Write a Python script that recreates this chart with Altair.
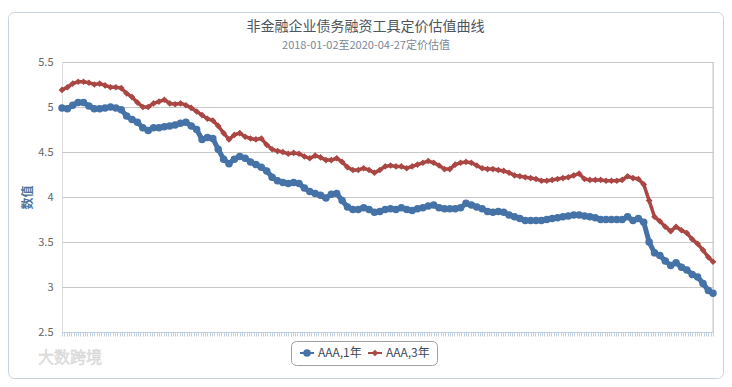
import altair as alt
import pandas as pd

# ---------------- data ----------------
series_names = ["AAA,1年", "AAA,3年"]

aaa_1y = [4.99, 4.98, 5.02, 5.05, 5.05, 5.01, 4.98, 4.98, 4.99, 5.00,
          4.99, 4.97, 4.90, 4.86, 4.83, 4.77, 4.74, 4.77, 4.77, 4.78,
          4.79, 4.80, 4.82, 4.83, 4.79, 4.75, 4.64, 4.66, 4.65, 4.53,
          4.42, 4.37, 4.42, 4.45, 4.43, 4.39, 4.36, 4.33, 4.29, 4.22,
          4.18, 4.16, 4.15, 4.16, 4.15, 4.10, 4.06, 4.04, 4.02, 3.99,
          4.03, 4.04, 3.96, 3.89, 3.86, 3.86, 3.88, 3.86, 3.83, 3.84,
          3.86, 3.87, 3.86, 3.88, 3.86, 3.85, 3.87, 3.88, 3.90, 3.91,
          3.88, 3.87, 3.87, 3.87, 3.88, 3.93, 3.91, 3.89, 3.87, 3.84,
          3.83, 3.84, 3.83, 3.80, 3.78, 3.76, 3.74, 3.74, 3.74, 3.74,
          3.75, 3.76, 3.77, 3.78, 3.79, 3.80, 3.80, 3.79, 3.78, 3.77,
          3.75, 3.75, 3.75, 3.75, 3.75, 3.78, 3.74, 3.76, 3.72, 3.50,
          3.38, 3.35, 3.29, 3.24, 3.27, 3.22, 3.19, 3.14, 3.11, 3.04,
          2.96, 2.93]

aaa_3y = [5.19, 5.22, 5.26, 5.28, 5.28, 5.27, 5.25, 5.26, 5.24, 5.22,
          5.22, 5.21, 5.15, 5.11, 5.05, 5.00, 5.00, 5.04, 5.06, 5.08,
          5.04, 5.03, 5.04, 5.02, 4.99, 4.95, 4.91, 4.87, 4.85, 4.79,
          4.71, 4.64, 4.69, 4.71, 4.67, 4.65, 4.64, 4.65, 4.58, 4.53,
          4.51, 4.50, 4.48, 4.49, 4.48, 4.45, 4.43, 4.46, 4.44, 4.41,
          4.41, 4.43, 4.39, 4.33, 4.30, 4.30, 4.32, 4.30, 4.27, 4.30,
          4.34, 4.35, 4.34, 4.34, 4.32, 4.34, 4.36, 4.38, 4.40, 4.38,
          4.35, 4.31, 4.31, 4.36, 4.38, 4.39, 4.38, 4.35, 4.32, 4.31,
          4.31, 4.30, 4.29, 4.27, 4.24, 4.23, 4.22, 4.21, 4.20, 4.18,
          4.18, 4.19, 4.20, 4.21, 4.22, 4.24, 4.26, 4.20, 4.19, 4.19,
          4.19, 4.18, 4.18, 4.18, 4.19, 4.23, 4.21, 4.20, 4.14, 3.96,
          3.78, 3.73, 3.67, 3.62, 3.67, 3.63, 3.60, 3.53, 3.48, 3.41,
          3.33, 3.28]

dates = (pd.date_range("2018-01-02", periods=121, freq="7D")
         .strftime("%Y-%m-%d").tolist() + ["2020-04-27"])

title_text = "非金融企业债务融资工具定价估值曲线"
subtitle_text = "2018-01-02至2020-04-27定价估值"
y_title = "数值"
y_ticks = [2.5, 3, 3.5, 4, 4.5, 5, 5.5]
watermark = "大数跨境"

df = pd.DataFrame({
    "date": dates * 2,
    "value": aaa_1y + aaa_3y,
    "series": [series_names[0]] * len(dates) + [series_names[1]] * len(dates),
})
one = pd.DataFrame({"a": [0]})

# ---------------- styling ----------------
W, H = 651, 270
colors = ["#4572A7", "#AA4643"]
FONT = "Noto Sans CJK SC"


def ms(s):
    return int(pd.Timestamp(s).value // 10**6)


tick_vals = [ms(d) for d in pd.date_range("2018-01-02", "2020-04-27", freq="3D")]

x_enc = alt.X(
    "date:T",
    scale=alt.Scale(domain=[ms("2018-01-02"), ms("2020-04-27")]),
    axis=alt.Axis(values=tick_vals, labels=False, title=None, grid=False,
                  domainColor="#C0D0E0", tickColor="#C0D0E0", tickSize=4),
)
y_enc = alt.Y(
    "value:Q",
    scale=alt.Scale(domain=[2.5, 5.5], nice=False, zero=False),
    axis=alt.Axis(values=y_ticks, format=".1~f", title=y_title, grid=True,
                  gridColor="#C8C8C8", domain=False, ticks=False,
                  labelPadding=9, labelColor="#666666", labelFontSize=11,
                  titleColor="#4d759e", titleFontWeight="bold", titleFontSize=12,
                  titleX=-35, titleY=H / 2, titleBaseline="middle", titleAlign="center"),
)

border = alt.Chart(one).mark_rect(cornerRadius=6, fillOpacity=0, stroke="#C8D2DC", strokeWidth=1).encode(
    x=alt.value(-53.5), x2=alt.value(661.5), y=alt.value(-49.5), y2=alt.value(316.5))

right_line = alt.Chart(one).mark_rule(color="#C8C8C8", strokeWidth=1).encode(
    x=alt.value(W), y=alt.value(0), y2=alt.value(H))

base1 = alt.Chart(df).transform_filter(alt.datum.series == series_names[0])
base3 = alt.Chart(df).transform_filter(alt.datum.series == series_names[1])

line1 = base1.mark_line(strokeWidth=5, color=colors[0], strokeCap="round").encode(x=x_enc, y=y_enc)
line3 = base3.mark_line(strokeWidth=3.5, color=colors[1], strokeCap="round").encode(x=x_enc, y=y_enc)
pts1 = base1.mark_point(shape="circle", filled=True, size=56, opacity=1, color=colors[0]).encode(x=x_enc, y=y_enc)
pts3 = base3.mark_point(shape="diamond", filled=True, size=44, opacity=1, color=colors[1]).encode(x=x_enc, y=y_enc)

title = alt.Chart(one).mark_text(text=title_text, font=FONT, fontSize=14, color="#4d5660",
                                 align="center", baseline="middle").encode(
    x=alt.value(303.5), y=alt.value(-35.5))
subtitle = alt.Chart(one).mark_text(text=subtitle_text, font=FONT, fontSize=11, color="#7a8896",
                                    align="center", baseline="middle").encode(
    x=alt.value(304), y=alt.value(-16.5))

# legend
legend_box = alt.Chart(one).mark_rect(cornerRadius=5, fill="white", stroke="#A0A0A0", strokeWidth=1).encode(
    x=alt.value(229.5), x2=alt.value(375.5), y=alt.value(279.5), y2=alt.value(303.5))
LY = 291
leg_line1 = alt.Chart(one).mark_rule(color=colors[0], strokeWidth=2).encode(
    x=alt.value(238), x2=alt.value(252), y=alt.value(LY))
leg_pt1 = alt.Chart(one).mark_point(shape="circle", filled=True, size=56, opacity=1, color=colors[0]).encode(
    x=alt.value(245), y=alt.value(LY))
leg_txt1 = alt.Chart(one).mark_text(text=series_names[0], font=FONT, fontSize=12, color="#3E4A57",
                                    align="left", baseline="middle").encode(x=alt.value(256), y=alt.value(LY))
leg_line3 = alt.Chart(one).mark_rule(color=colors[1], strokeWidth=2).encode(
    x=alt.value(306), x2=alt.value(320), y=alt.value(LY))
leg_pt3 = alt.Chart(one).mark_point(shape="diamond", filled=True, size=44, opacity=1, color=colors[1]).encode(
    x=alt.value(313), y=alt.value(LY))
leg_txt3 = alt.Chart(one).mark_text(text=series_names[1], font=FONT, fontSize=12, color="#3E4A57",
                                    align="left", baseline="middle").encode(x=alt.value(324), y=alt.value(LY))

wm = alt.Chart(one).mark_text(text=watermark, font=FONT, fontSize=16, color="#e4e4e4",
                              stroke="#d0d0d0", strokeWidth=0.4,
                              align="left", baseline="middle").encode(x=alt.value(-24), y=alt.value(296))

chart = alt.layer(
    border, right_line, line1, line3, pts1, pts3, title, subtitle,
    legend_box, leg_line1, leg_pt1, leg_txt1, leg_line3, leg_pt3, leg_txt3, wm,
).properties(
    width=W, height=H,
    padding={"left": 54, "top": 54, "right": 11, "bottom": 47},
    autosize=alt.AutoSizeParams(type="none"),
    background="white",
).configure_view(stroke=None).configure(font=FONT)

chart.save("out.html", embed_options={"renderer": "svg", "actions": False})
